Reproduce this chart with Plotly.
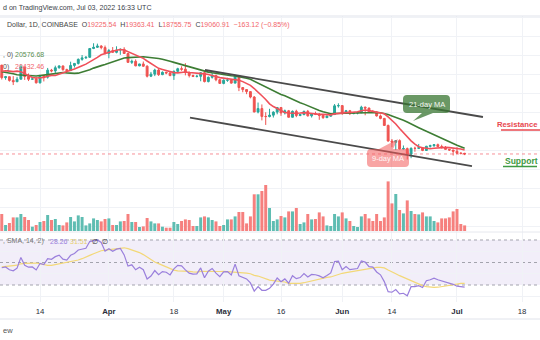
import numpy as np
import pandas as pd
import plotly.graph_objects as go

W, H = 540, 340

# ---------------- data ----------------
history_closes = [  # Jan 1 - Mar 3, 2022 (warm-up for MAs / RSI)
    47690, 47300, 46450, 45830, 43430, 43080, 41550, 41730, 41860, 41820,
    42740, 43950, 42590, 43100, 43180, 43110, 42250, 42370, 41680, 40700,
    36460, 35030, 36280, 36680, 36960, 36850, 37140, 37710, 38180, 37920,
    38480, 38740, 36950, 37150, 41570, 41410, 42410, 43840, 44120, 44340,
    43570, 42410, 42240, 42200, 42590, 44580, 43960, 40540, 40000, 40120,
    38430, 37020, 38280, 37260, 38330, 39230, 39140, 37710, 43190, 44420,
    43920, 42450,
]

start_date = "2022-03-04"
n_days = 122

opens = [
    42450, 39150, 39400, 38420, 38060, 38740, 41980, 39440, 38730, 38810,
    37790, 39670, 39280, 41120, 40920, 41760, 42230, 41260, 41000, 42360,
    42890, 43960, 44350, 44500, 46820, 47130, 47460, 47060, 45540, 46280,
    45810, 46400, 46580, 45500, 43170, 43440, 42250, 42750, 42160, 39530,
    40070, 41150, 39940, 40550, 40380, 39680, 40800, 41500, 41370, 40480,
    39710, 39470, 39500, 40430, 38110, 39240, 39740, 38600, 37630, 38470,
    38520, 37710, 39690, 36550, 36010, 35470, 34040, 30100, 31010, 28940,
    28900, 29280, 30080, 31300, 29860, 30420, 28720, 30290, 29190, 29430,
    30280, 29100, 29650, 29540, 29200, 28620, 29020, 29450, 31730, 31790,
    29800, 30440, 29700, 29860, 29900, 31370, 31130, 30200, 30110, 29080,
    28420, 26570, 22480, 22140, 22570, 20380, 20470, 19017, 20553, 20540,
    20710, 19988, 21085, 21231, 21502, 21027, 20735, 20280, 20104, 19785,
    19269, 19225.54,
]
highs = [
    42500, 39600, 39430, 39550, 39350, 42600, 42000, 40250, 39300, 39300,
    39900, 39850, 41700, 41450, 42300, 42400, 42300, 41500, 43350, 43000,
    44200, 45100, 44800, 46900, 48200, 48100, 47700, 47600, 46700, 47200,
    47400, 46850, 47150, 45500, 43900, 43950, 42800, 43400, 42400, 40650,
    41500, 41500, 40800, 40700, 40600, 41050, 41750, 42150, 42950, 40800,
    39950, 39900, 40600, 40800, 39450, 40350, 39900, 38800, 38700, 39100,
    38650, 39900, 39800, 36650, 36100, 35500, 34300, 32600, 32100, 30050,
    30950, 30300, 31400, 31300, 30750, 30650, 30500, 30700, 29600, 30450,
    30650, 29800, 30200, 29850, 29350, 29200, 29550, 32200, 32400, 31950,
    30650, 30650, 29950, 30150, 31750, 31550, 31300, 30650, 30300, 29450,
    28550, 26800, 23000, 22700, 22900, 21300, 20750, 20800, 21000, 21700,
    20850, 21200, 21500, 21600, 21800, 21500, 21150, 20400, 20150, 20850,
    19450, 19363.41,
]
lows = [
    38650, 38600, 38100, 37200, 38000, 38700, 38550, 38250, 38650, 37600,
    37600, 38150, 38900, 40550, 40150, 41500, 40950, 40500, 40900, 41800,
    42600, 43600, 44100, 44400, 46650, 46950, 46600, 45250, 44250, 45650,
    45550, 45150, 45400, 43100, 42750, 42150, 42150, 42000, 39200, 39300,
    39550, 39600, 39800, 40050, 39550, 38550, 40600, 40950, 39750, 39200,
    39300, 39200, 38200, 37900, 37900, 38900, 38200, 37600, 37400, 38050,
    37550, 37650, 35600, 35300, 34800, 33700, 30050, 29750, 27900, 26700,
    28700, 28650, 29500, 29100, 29450, 28700, 28700, 28750, 29000, 29250,
    28900, 28650, 29300, 28050, 28300, 28550, 28850, 29300, 31250, 29350,
    29600, 29300, 29500, 29500, 29900, 29250, 29850, 29950, 28900, 28200,
    26550, 22300, 20850, 20100, 20250, 20250, 17600, 17950, 19650, 20350,
    19800, 19900, 20750, 20950, 21000, 20500, 20200, 19850, 18650, 19000,
    18950, 18755.75,
]
closes = [
    39150, 39400, 38420, 38060, 38740, 41980, 39440, 38730, 38810, 37790,
    39670, 39280, 41120, 40920, 41760, 42230, 41260, 41000, 42360, 42890,
    43960, 44350, 44500, 46820, 47130, 47460, 47060, 45540, 46280, 45810,
    46400, 46580, 45500, 43170, 43440, 42250, 42750, 42160, 39530, 40070,
    41150, 39940, 40550, 40380, 39680, 40800, 41500, 41370, 40480, 39710,
    39470, 39500, 40430, 38110, 39240, 39740, 38600, 37630, 38470, 38520,
    37710, 39690, 36550, 36010, 35470, 34040, 30100, 31010, 28940, 28900,
    29280, 30080, 31300, 29860, 30420, 28720, 30290, 29190, 29430, 30280,
    29100, 29650, 29540, 29200, 28620, 29020, 29450, 31730, 31790, 29800,
    30440, 29700, 29860, 29900, 31370, 31130, 30200, 30110, 29080, 28420,
    26570, 22480, 22140, 22570, 20380, 20470, 19017, 20553, 20540, 20710,
    19988, 21085, 21231, 21502, 21027, 20735, 20280, 20104, 19785, 19269,
    19242, 19060.91,
]
volumes = [
    34000, 12000, 16000, 27200, 27200, 34000, 28000, 22000, 8600, 12000,
    18000, 20000, 32000, 22000, 24000, 12000, 11200, 17200, 28000, 19200,
    31200, 28000, 11200, 15200, 25200, 22000, 19200, 24000, 25200, 12000,
    12000, 19200, 20000, 34000, 18000, 18000, 8000, 9200, 26000, 19200,
    15200, 15200, 8600, 6600, 6600, 18000, 14000, 20000, 23200, 22000,
    10000, 10000, 27200, 29200, 27200, 22000, 19200, 10000, 12000, 23200,
    23200, 29200, 38000, 38000, 15200, 29200, 73400, 73400, 80000, 92000,
    46000, 20000, 23200, 30000, 27200, 39200, 39200, 46000, 14000, 17200,
    34000, 23200, 24000, 37200, 29200, 11200, 10000, 34000, 29200, 37200,
    25200, 20000, 10000, 8000, 29200, 34000, 25200, 20000, 34000, 20000,
    27200, 99200, 55200, 74000, 42000, 35200, 61200, 40000, 34000, 33200,
    37200, 29200, 29200, 20000, 17200, 25200, 25200, 27200, 39200, 44000,
    14000, 11200,
]

# channel trend lines drawn on the chart (date, price)
upper_line_dates = ["2022-04-26 03:00", "2022-07-07 19:00"]
upper_line_prices = [41160, 28790]
lower_line_dates = ["2022-04-22 05:00", "2022-07-04 22:00"]
lower_line_prices = [28600, 15890]

tick_dates = ["2022-03-14", "2022-04-01", "2022-04-18", "2022-05-01", "2022-05-16",
              "2022-06-01", "2022-06-14", "2022-07-01", "2022-07-18"]
tick_labels = ["14", "<b>Apr</b>", "18", "<b>May</b>", "16",
               "<b>Jun</b>", "14", "<b>Jul</b>", "18"]

last_price = closes[-1]
ma_fast_len, ma_slow_len = 9, 21
rsi_len, rsi_ma_len = 14, 14

# ---------------- indicators ----------------
dates = pd.date_range(start_date, periods=n_days, freq="D")
all_close = pd.Series(history_closes + closes, dtype=float)
ma_fast = all_close.rolling(ma_fast_len).mean().values[-n_days:]
ma_slow = all_close.rolling(ma_slow_len).mean().values[-n_days:]

delta = all_close.diff().values
ups = np.where(delta > 0, delta, 0.0)
dns = np.where(delta < 0, -delta, 0.0)


def rma(vals, n):
    out = np.full(len(vals), np.nan)
    out[n] = np.mean(vals[1:n + 1])
    for i in range(n + 1, len(vals)):
        out[i] = (out[i - 1] * (n - 1) + vals[i]) / n
    return out


avg_up = rma(ups, rsi_len)
avg_dn = rma(dns, rsi_len)
rsi_all = 100 - 100 / (1 + avg_up / avg_dn)
rsi_ma_all = pd.Series(rsi_all).rolling(rsi_ma_len).mean().values
rsi = rsi_all[-n_days:]
rsi_ma = rsi_ma_all[-n_days:]

# ---------------- styling ----------------
UP = "#26a69a"
DOWN = "#ef5350"
VOL_UP = "#5fbdb2"
VOL_DOWN = "#f6807e"
GRID = "#f0f2f6"
FONT = "Liberation Sans, Arial, sans-serif"
TXT = "#2a2e39"


def X(p):
    return p / W


def Y(p):
    return 1 - p / H


main_dom = [Y(232), Y(16)]
rsi_dom = [Y(302), Y(232)]
x_range = [dates[0] - pd.Timedelta(hours=11), dates[0] + pd.Timedelta(days=140.7)]

vol_colors = [VOL_UP if c >= o else VOL_DOWN for o, c in zip(opens, closes)]

fig = go.Figure()

fig.add_trace(go.Bar(x=dates, y=volumes, marker=dict(color=vol_colors, line=dict(width=0)),
                     xaxis="x", yaxis="y", hoverinfo="skip"))

fig.add_trace(go.Candlestick(
    x=dates, open=opens, high=highs, low=lows, close=closes,
    increasing=dict(line=dict(color=UP, width=1), fillcolor=UP),
    decreasing=dict(line=dict(color=DOWN, width=1), fillcolor=DOWN),
    whiskerwidth=0, xaxis="x", yaxis="y2", hoverinfo="skip"))

fig.add_trace(go.Scatter(x=dates, y=ma_slow, mode="lines",
                         line=dict(color="#3d7d34", width=1.6), xaxis="x", yaxis="y2"))
fig.add_trace(go.Scatter(x=dates, y=ma_fast, mode="lines",
                         line=dict(color="#f0505a", width=1.6), xaxis="x", yaxis="y2"))

for dts, prs in [(upper_line_dates, upper_line_prices), (lower_line_dates, lower_line_prices)]:
    fig.add_trace(go.Scatter(x=pd.to_datetime(dts), y=prs, mode="lines",
                             line=dict(color="#4a4a4a", width=1.8), xaxis="x", yaxis="y2"))

fig.add_trace(go.Scatter(x=dates, y=rsi_ma, mode="lines",
                         line=dict(color="#f3d878", width=1.2), xaxis="x2", yaxis="y3"))
fig.add_trace(go.Scatter(x=dates, y=rsi, mode="lines",
                         line=dict(color="#9a7fdc", width=1.2), xaxis="x2", yaxis="y3"))

shapes = []
# RSI band and levels
shapes.append(dict(type="rect", xref="paper", yref="y3", x0=0, x1=1, y0=30, y1=70,
                   fillcolor="rgba(126,87,194,0.10)", line=dict(width=0), layer="below"))
for lv in [30, 50, 70]:
    shapes.append(dict(type="line", xref="paper", yref="y3", x0=0, x1=1, y0=lv, y1=lv,
                       line=dict(color="#a3a3ad", width=1, dash="3px,3px"), layer="below"))
# current price line
shapes.append(dict(type="line", xref="paper", yref="y2", x0=0, x1=1, y0=last_price, y1=last_price,
                   line=dict(color="rgba(242,54,69,0.55)", width=1, dash="dot")))
# separators
for yy, col in [(16, "#e0e3eb"), (232, "#e6e8ee"), (319, "#e0e3eb")]:
    shapes.append(dict(type="line", xref="paper", yref="paper", x0=0, x1=1, y0=Y(yy), y1=Y(yy),
                       line=dict(color=col, width=1)))


def P(x, y):
    return f"{X(x):.5f},{Y(y):.5f}"


def bubble_bottom_tail(x0, y0, x1, y1, r, ta, tip, tb):
    return (f"M {P(x0 + r, y0)} L {P(x1 - r, y0)} Q {P(x1, y0)} {P(x1, y0 + r)} "
            f"L {P(x1, y1 - r)} Q {P(x1, y1)} {P(x1 - r, y1)} L {P(ta, y1)} L {P(*tip)} "
            f"L {P(tb, y1)} L {P(x0 + r, y1)} Q {P(x0, y1)} {P(x0, y1 - r)} "
            f"L {P(x0, y0 + r)} Q {P(x0, y0)} {P(x0 + r, y0)} Z")


def bubble_top_tail(x0, y0, x1, y1, r, ta, tip, tb):
    return (f"M {P(x0 + r, y0)} L {P(ta, y0)} L {P(*tip)} L {P(tb, y0)} "
            f"L {P(x1 - r, y0)} Q {P(x1, y0)} {P(x1, y0 + r)} "
            f"L {P(x1, y1 - r)} Q {P(x1, y1)} {P(x1 - r, y1)} "
            f"L {P(x0 + r, y1)} Q {P(x0, y1)} {P(x0, y1 - r)} "
            f"L {P(x0, y0 + r)} Q {P(x0, y0)} {P(x0 + r, y0)} Z")


shapes.append(dict(type="path", xref="paper", yref="paper",
                   path=bubble_bottom_tail(403, 95, 450, 113, 4, 433, (413, 121), 422),
                   fillcolor="rgba(56,118,50,0.75)", line=dict(width=0), layer="above"))
shapes.append(dict(type="path", xref="paper", yref="paper",
                   path=bubble_top_tail(367, 149, 409, 167, 4, 379, (398, 139), 393),
                   fillcolor="rgba(242,90,90,0.55)", line=dict(width=0), layer="above"))
# underlines of Resistance / Support labels
shapes.append(dict(type="line", xref="paper", yref="paper", x0=X(501), x1=X(540), y0=Y(130), y1=Y(130),
                   line=dict(color="#e8484f", width=1.6)))
shapes.append(dict(type="line", xref="paper", yref="paper", x0=X(503), x1=X(537), y0=Y(166.5), y1=Y(166.5),
                   line=dict(color="#3f9a43", width=1.6)))

ann = []


def text(x, y, s, size=7, color=TXT, anchor="left"):
    ann.append(dict(xref="paper", yref="paper", x=X(x), y=Y(y), text=s, showarrow=False,
                    xanchor=anchor, yanchor="middle", font=dict(size=size, color=color, family=FONT)))


text(0.5, 8, "d on TradingView.com, Jul 03, 2022 16:33 UTC", 7.1, "#3b3f4a")
RED_T = "#f2666b"
text(5, 25, "Dollar, 1D, COINBASE&nbsp; "
     f"O<span style='color:{RED_T}'>19225.54</span>&nbsp; "
     f"H<span style='color:{RED_T}'>19363.41</span>&nbsp; "
     f"L<span style='color:{RED_T}'>18755.75</span>&nbsp; "
     f"C<span style='color:{RED_T}'>19060.91</span>&nbsp; "
     f"<span style='color:{RED_T}'>−163.12 (−0.85%)</span>", 7, "#444")
text(0.5, 55, ", 0)", 7, "#555")
text(13, 55, "20576.68", 7, "#5a8f50")
text(1, 67, "0)", 7, "#555")
text(12.5, 67, "20432.46", 7, "#f2666b")
text(0.5, 241, ", SMA, 14, 2)", 7, "#777")
text(47.5, 241, "28.26", 7, "#9a7fdc")
text(67.5, 241, "31.51", 7, "#e8cf70")
text(89.5, 241, "∅", 7, "#333")
text(99.5, 241, "∅", 7, "#333")
text(426.5, 104, "21-day MA", 7.5, "#f4f7f2", "center")
text(388, 158, "9-day MA", 7.5, "#fff6f6", "center")
text(539.5, 124.5, "<b>Resistance</b>", 7.7, "#e8484f", "right")
text(503, 161, "<b>Support</b>", 8.5, "#3f9a43")
text(0.5, 330, "ew", 7.5, "#555")

fig.update_layout(
    width=W, height=H, margin=dict(l=0, r=0, t=0, b=0),
    paper_bgcolor="white", plot_bgcolor="white", showlegend=False,
    bargap=0.22, font=dict(family=FONT, color=TXT),
    xaxis=dict(domain=[0, 1], anchor="y", type="date", range=x_range,
               tickvals=tick_dates, showticklabels=False, showgrid=True, gridcolor=GRID,
               gridwidth=1, zeroline=False, showline=False, rangeslider=dict(visible=False),
               fixedrange=True),
    xaxis2=dict(domain=[0, 1], anchor="y3", type="date", range=x_range, matches="x",
                tickvals=tick_dates, ticktext=tick_labels, showgrid=True, gridcolor=GRID,
                zeroline=False, showline=False, ticks="", ticklabelstandoff=3,
                tickfont=dict(size=7.8, color="#2a2e39", family=FONT)),
    yaxis=dict(domain=main_dom, range=[-2000, 430000], showgrid=False, showticklabels=False,
               zeroline=False),
    yaxis2=dict(overlaying="y", range=[-1470, 55370], tick0=0, dtick=5000, showgrid=True,
                gridcolor=GRID, showticklabels=False, zeroline=False, side="right"),
    yaxis3=dict(domain=rsi_dom, anchor="x2", range=[14.9, 77.1], tickvals=[20, 40, 60],
                showgrid=True, gridcolor=GRID, showticklabels=False, zeroline=False),
    shapes=shapes, annotations=ann,
)

fig.write_html("out.html", config={"displayModeBar": False, "staticPlot": True})
